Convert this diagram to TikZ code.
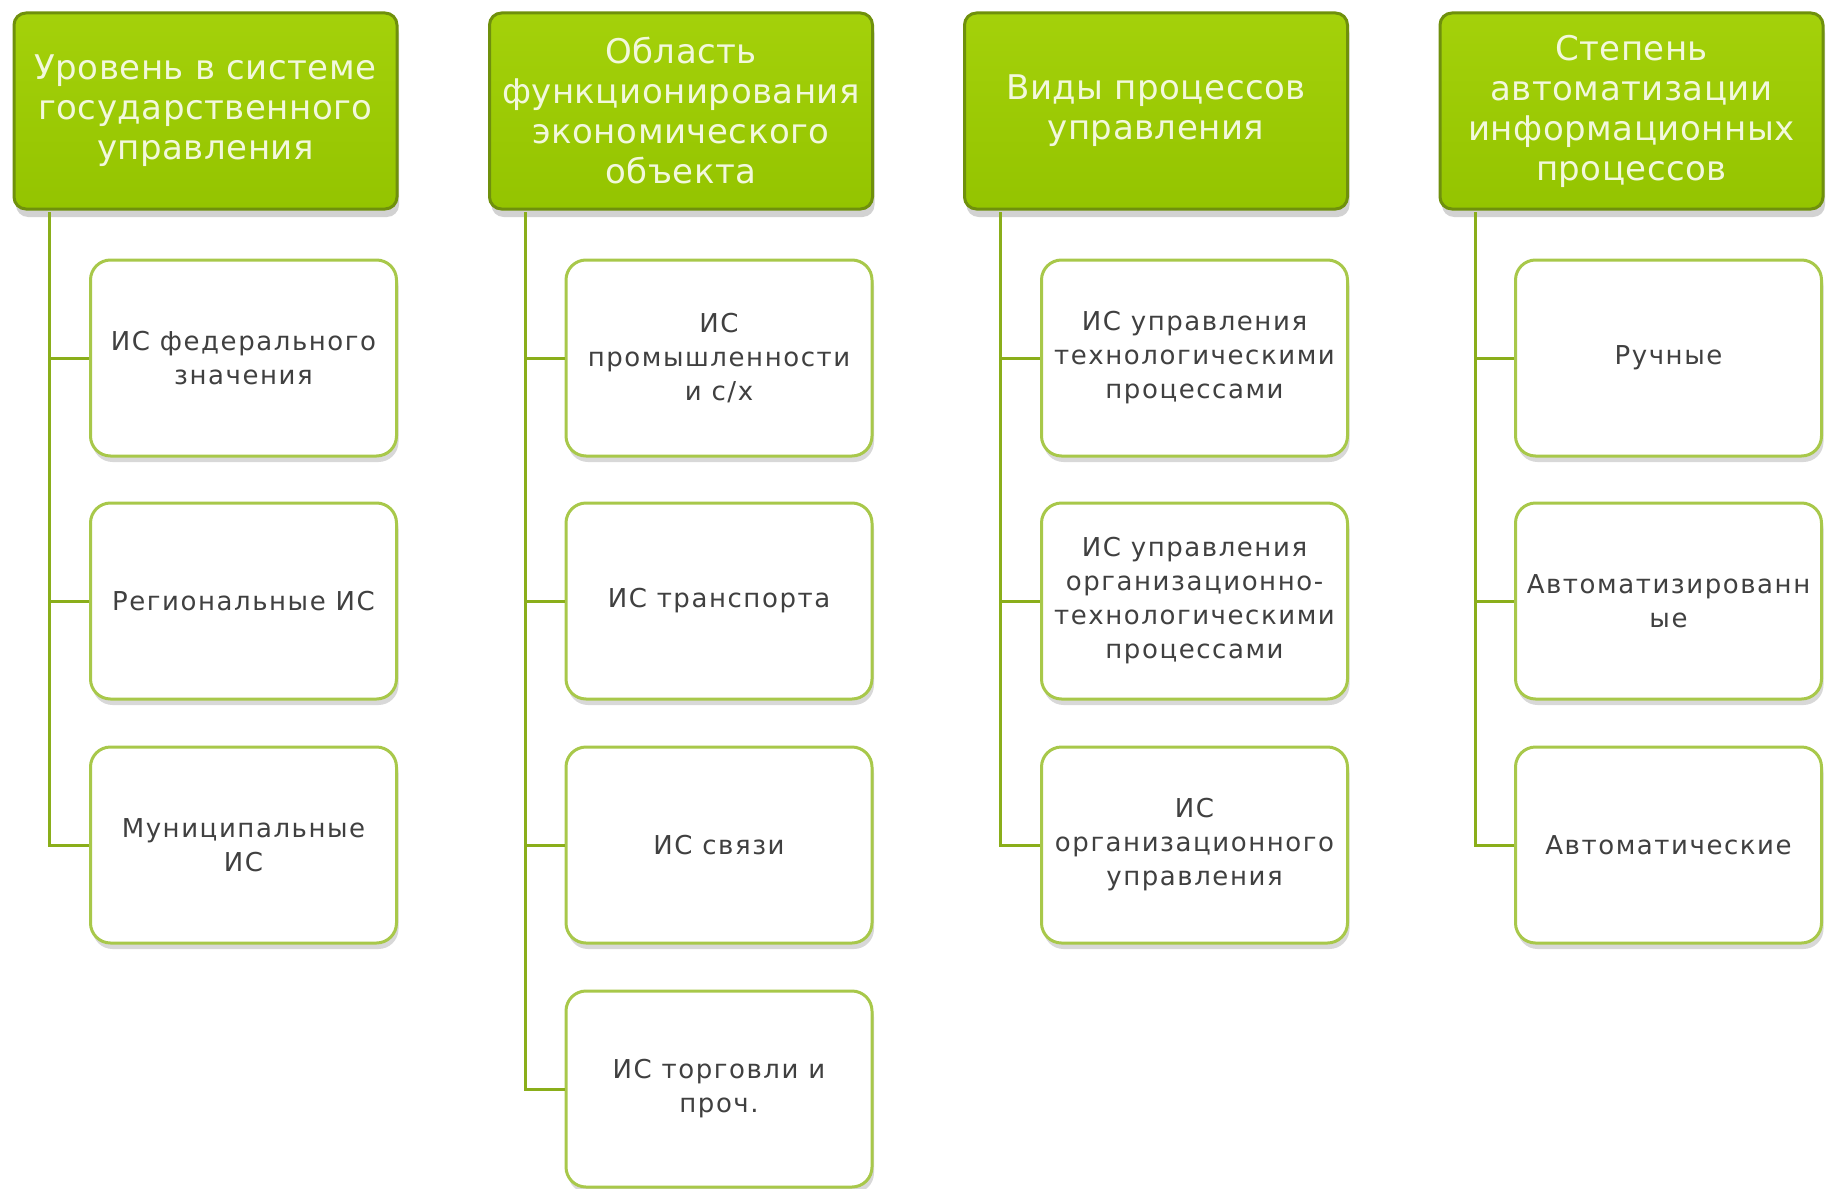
\documentclass[tikz,border=0pt]{standalone}
\usepackage{fontspec}
\setmainfont{DejaVu Sans}
\newfontfamily\headfont[LetterSpace=1.5]{DejaVu Sans}
\newfontfamily\childfont[LetterSpace=6]{DejaVu Sans}
\usetikzlibrary{shadows}
\definecolor{hdtop}{HTML}{A4D10A}
\definecolor{hdbot}{HTML}{94C400}
\definecolor{hdedge}{HTML}{6F900C}
\definecolor{hdtext}{HTML}{F2F8DC}
\definecolor{chedge}{HTML}{A8C84A}
\definecolor{chtext}{HTML}{404040}
\definecolor{conncol}{HTML}{8AAE1A}
\tikzset{
  header/.style={rectangle, rounded corners=12pt, minimum width=383pt, minimum height=196pt,
    inner sep=0pt, top color=hdtop, bottom color=hdbot, draw=hdedge, line width=3pt,
    align=center, text=hdtext, font=\headfont\fontsize{34}{40}\selectfont,
    drop shadow={opacity=0.35, shadow xshift=2pt, shadow yshift=-8pt}},
  child/.style={rectangle, rounded corners=20pt, minimum width=306pt, minimum height=196pt,
    inner sep=0pt, fill=white, draw=chedge, line width=3pt,
    align=center, text=chtext, font=\childfont\fontsize{26}{34}\selectfont,
    drop shadow={opacity=0.3, shadow xshift=2pt, shadow yshift=-6pt}},
  conn/.style={draw=conncol, line width=3pt}
}
\begin{document}
\begin{tikzpicture}[x=1pt,y=-1pt]
\useasboundingbox[fill=white] (0,0) rectangle (1830,1188);
% headers
\node[header] (h1) at (205.5,111) {Уровень в системе\\государственного\\управления};
\node[header] (h2) at (681,111) {Область\\функционирования\\экономического\\объекта};
\node[header] (h3) at (1156,111) {Виды процессов\\управления};
\node[header] (h4) at (1631.5,111) {Степень\\автоматизации\\информационных\\процессов};
% column 1
\node[child] (c11) at (243.5,358) {ИС федерального\\значения};
\node[child] (c12) at (243.5,601) {Региональные ИС};
\node[child] (c13) at (243.5,845) {Муниципальные\\ИС};
% column 2
\node[child] (c21) at (719,358) {ИС\\промышленности\\и с/х};
\node[child] (c22) at (719,601) {ИС транспорта};
\node[child] (c23) at (719,845) {ИС связи};
\node[child] (c24) at (719,1089) {ИС торговли и\\проч.};
% column 3
\node[child] (c31) at (1194.5,358) {ИС управления\\технологическими\\процессами};
\node[child] (c32) at (1194.5,601) {ИС управления\\организационно-\\технологическими\\процессами};
\node[child] (c33) at (1194.5,845) {ИС\\организационного\\управления};
% column 4
\node[child] (c41) at (1668.5,358) {Ручные};
\node[child] (c42) at (1668.5,601) {Автоматизированн\\ые};
\node[child] (c43) at (1668.5,845) {Автоматические};
% connectors
\foreach \h/\c in {h1/c11,h1/c12,h1/c13,h2/c21,h2/c22,h2/c23,h2/c24,h3/c31,h3/c32,h3/c33,h4/c41,h4/c42,h4/c43}
  \draw[conn] ([xshift=37pt,yshift=-1.5pt]\h.south west) |- (\c.west);
\end{tikzpicture}
\end{document}
